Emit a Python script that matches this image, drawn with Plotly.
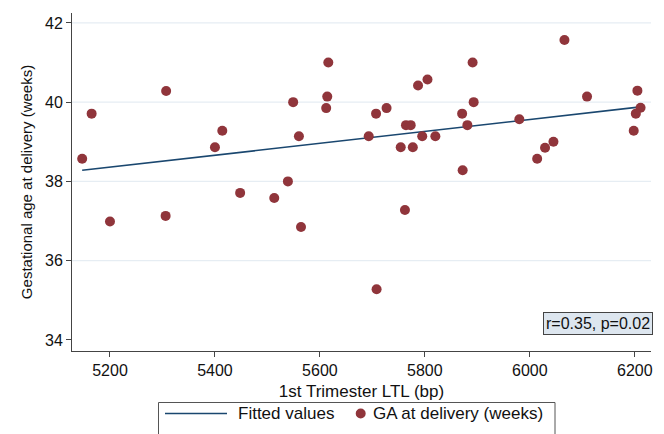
import plotly.graph_objects as go

# Data
ltl_bp = [5147, 5165, 5307, 5414, 5400, 5448, 5513, 5539, 5549, 5560, 5616, 5614, 5612,
          5200, 5306, 5564,
          5693, 5707, 5727, 5764, 5773, 5754, 5777, 5787, 5805, 5795, 5820, 5872, 5871,
          5881, 5891, 5893, 5980, 6014, 6029, 6045, 6066, 6109, 6205, 6211, 6202, 6198,
          5762, 5708]
ga_weeks = [38.57, 39.71, 40.28, 39.28, 38.86, 37.71, 37.58, 38.0, 40.0, 39.14, 41.0, 40.14, 39.85,
            36.99, 37.13, 36.85,
            39.14, 39.71, 39.85, 39.42, 39.42, 38.86, 38.86, 40.42, 40.57, 39.14, 39.14, 38.28, 39.71,
            39.42, 41.0, 40.0, 39.57, 38.57, 38.85, 39.0, 41.57, 40.14, 40.29, 39.86, 39.71, 39.28,
            37.28, 35.28]

fit_x = [5147, 6211]
fit_y = [38.28, 39.88]

x_ticks = [5200, 5400, 5600, 5800, 6000, 6200]
y_ticks = [34, 36, 38, 40, 42]
grid_y = [36, 38, 40, 42]

legend_labels = ["Fitted values", "GA at delivery (weeks)"]

FONT = "Liberation Sans, Arial, Helvetica, sans-serif"
NAVY = "#1a476f"
MAROON = "#90353b"

W, H = 664, 434
L, R, T, B = 72, 13, 13, 83
PW, PH = W - L - R, H - T - B


def px(xpix):
    return (xpix - L) / PW


def py(ypix):
    return (H - B - ypix) / PH


fig = go.Figure()
fig.add_trace(go.Scatter(x=fit_x, y=fit_y, mode="lines", name=legend_labels[0],
                         line=dict(color=NAVY, width=1.6), showlegend=False))
fig.add_trace(go.Scatter(x=ltl_bp, y=ga_weeks, mode="markers", name=legend_labels[1],
                         marker=dict(color=MAROON, size=10), showlegend=False))

for g in grid_y:
    fig.add_shape(type="line", xref="paper", x0=0, x1=1, yref="y", y0=g, y1=g,
                  line=dict(color="#e6edf3", width=1.2), layer="below")

# r / p box
fig.add_annotation(text="r=0.35, p=0.02", xref="paper", yref="paper", x=px(652.5), y=py(334.5),
                   xanchor="right", yanchor="bottom", showarrow=False,
                   font=dict(family=FONT, size=16, color="#111"),
                   bgcolor="#dde6ef", bordercolor="#444", borderwidth=1, borderpad=2)

# Legend (drawn below the plot, box runs off the bottom edge as in the reference)
fig.add_shape(type="rect", xref="paper", yref="paper", x0=px(158.5), x1=px(555), y0=py(402.5), y1=py(445),
              line=dict(color="#555", width=1), fillcolor="white")
fig.add_shape(type="line", xref="paper", yref="paper", x0=px(165), x1=px(227), y0=py(413.5), y1=py(413.5),
              line=dict(color=NAVY, width=1.6))
fig.add_shape(type="circle", xref="paper", yref="paper", x0=px(355.7), x1=px(365.7), y0=py(408.5), y1=py(418.5),
              line=dict(color=MAROON, width=0), fillcolor=MAROON)
fig.add_annotation(text=legend_labels[0], xref="paper", yref="paper", x=px(236), y=py(413.5),
                   xanchor="left", yanchor="middle", showarrow=False,
                   font=dict(family=FONT, size=17, color="#111"))
fig.add_annotation(text=legend_labels[1], xref="paper", yref="paper", x=px(371), y=py(413.5),
                   xanchor="left", yanchor="middle", showarrow=False,
                   font=dict(family=FONT, size=17, color="#111"))

fig.update_layout(
    width=W, height=H,
    margin=dict(l=L, r=R, t=T, b=B, autoexpand=False),
    paper_bgcolor="white", plot_bgcolor="white",
    font=dict(family=FONT, size=16, color="#111"),
    showlegend=False,
    xaxis=dict(range=[5127.6, 6230.9], tickvals=x_ticks, ticks="outside", ticklen=5,
               tickcolor="#444", showline=True, linecolor="#444", linewidth=1,
               showgrid=False, zeroline=False,
               title=dict(text="1st Trimester LTL (bp)", font=dict(size=17), standoff=6),
               tickfont=dict(size=16)),
    yaxis=dict(range=[33.72, 42.25], tickvals=y_ticks, ticks="outside", ticklen=5,
               tickcolor="#444", showline=True, linecolor="#444", linewidth=1,
               showgrid=False, zeroline=False,
               title=dict(text="Gestational age at delivery (weeks)", font=dict(size=15), standoff=8),
               tickfont=dict(size=16)),
)

fig.write_html("out.html", config={"displayModeBar": False},
               post_script="document.body.style.margin='0';document.body.style.overflow='hidden';")
